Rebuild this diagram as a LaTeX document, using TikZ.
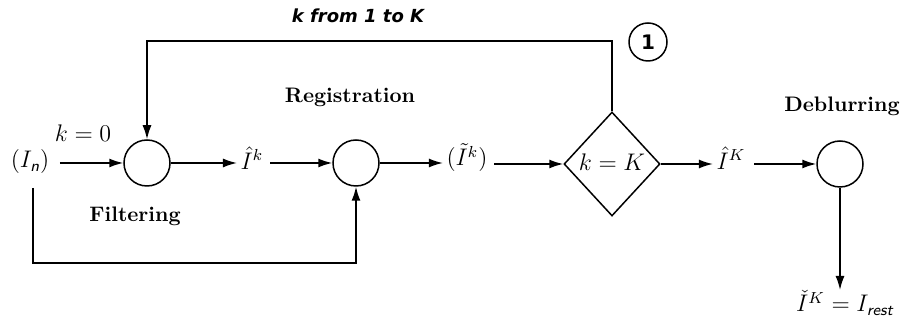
\documentclass[tikz,border=0pt]{standalone}
\usepackage{amsmath}
\usepackage{fontspec}
\newfontfamily\djsans{DejaVu Sans}
\usetikzlibrary{arrows.meta,shapes.geometric}
\newcommand{\sfi}[1]{\text{\sffamily\itshape #1}}
\begin{document}
\begin{tikzpicture}[x=0.5pt,y=-0.5pt,
  line width=0.75pt,
  arr/.style={-{Latex[length=7pt,width=4.5pt]}},
  opnode/.style={circle,draw,minimum size=23pt,inner sep=0pt},
  mathlbl/.style={inner sep=0pt,font=\large},
  steplbl/.style={inner sep=0pt,font=\bfseries\fontsize{10.5}{12}\selectfont},
  ]
\useasboundingbox (0,0) rectangle (900,325);
% nodes
\node[mathlbl] (in) at (30,162) {$(I_{\sfi{n}})$};
\node[opnode] (filt) at (147,163) {};
\node[mathlbl] (ik) at (252,158) {$\hat I^k$};
\node[opnode] (reg) at (356,163) {};
\node[mathlbl] (itk) at (467,158) {$(\tilde I^k)$};
\node[diamond,draw,minimum width=48pt,minimum height=52pt,inner sep=0pt] (dia) at (612,164) {};
\node[mathlbl] (diatxt) at (612,162) {$k=K$};
\node[mathlbl] (iK) at (731,158) {$\hat I^K$};
\node[opnode] (deb) at (840,164) {};
\node[mathlbl,anchor=north] (out) at (845,290) {$\check I^K = I_{\sfi{rest}}$};
% labels
\node[mathlbl] (k0) at (83,133) {$k=0$};
\node[steplbl] (lreg) at (350,97) {Registration};
\node[steplbl] (lfilt) at (135,216) {Filtering};
\node[steplbl] (ldeb) at (842,106) {Deblurring};
\node[inner sep=0pt,font=\djsans\bfseries\itshape\small] (loopl) at (358,16) {k from 1 to K};
\node[circle,draw,minimum size=19pt,inner sep=0pt,font=\djsans\bfseries] (one) at (648,42) {1};
% coordinates
\coordinate (tl) at (147,41);
\coordinate (tr) at (612,41);
\coordinate (bl) at (33,263);
\coordinate (br) at (356,263);
\coordinate (inb) at (33,188);
% connectors
\draw[arr] ([xshift=5pt]in.east |- filt.west) -- (filt.west);
\draw[arr] (filt.east) -- ([xshift=-1.5pt]ik.west |- filt.east);
\draw[arr] ([xshift=3pt]ik.east |- reg.west) -- (reg.west);
\draw[arr] (reg.east) -- ([xshift=-1.5pt]itk.west |- reg.east);
\draw[arr] ([xshift=3pt]itk.east |- dia.west) -- (dia.west);
\draw[arr] (dia.east) -- ([xshift=-1.5pt]iK.west |- dia.east);
\draw[arr] ([xshift=4pt]iK.east |- deb.west) -- (deb.west);
\draw[arr] (deb.south) -- (out.north -| deb.south);
\draw[arr] (dia.north) -- (tr) -- (tl) -- (filt.north);
\draw[arr] (inb) -- (bl) -- (br) -- (reg.south);
\end{tikzpicture}
\end{document}
